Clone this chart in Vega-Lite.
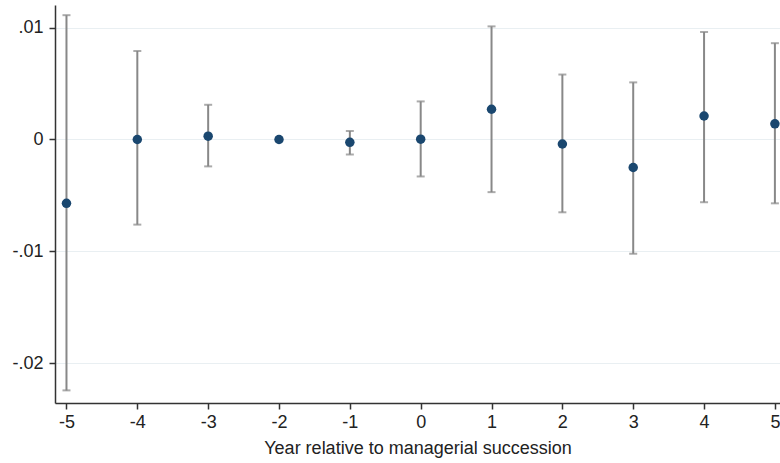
{
  "$schema": "https://vega.github.io/schema/vega-lite/v6.json",
  "autosize": {"type": "none"},
  "padding": {"left": 55, "top": 5, "right": 0, "bottom": 60},
  "width": 725,
  "height": 398,
  "background": "white",
  "config": {
    "view": {"stroke": null},
    "font": "Liberation Sans"
  },
  "data": {
    "values": [
      {"year": -5, "coef": -0.0057, "lo": -0.0224, "hi": 0.0111},
      {"year": -4, "coef": 0.0000, "lo": -0.0076, "hi": 0.0079},
      {"year": -3, "coef": 0.0003, "lo": -0.0024, "hi": 0.0031},
      {"year": -2, "coef": 0.0000, "lo": null, "hi": null},
      {"year": -1, "coef": -0.00025, "lo": -0.00134, "hi": 0.00076},
      {"year": 0, "coef": 0.00003, "lo": -0.0033, "hi": 0.0034},
      {"year": 1, "coef": 0.0027, "lo": -0.0047, "hi": 0.0101},
      {"year": 2, "coef": -0.0004, "lo": -0.0065, "hi": 0.0058},
      {"year": 3, "coef": -0.0025, "lo": -0.0102, "hi": 0.0051},
      {"year": 4, "coef": 0.0021, "lo": -0.0056, "hi": 0.0096},
      {"year": 5, "coef": 0.0014, "lo": -0.0057, "hi": 0.0086}
    ]
  },
  "encoding": {
    "x": {
      "field": "year",
      "type": "quantitative",
      "scale": {"domain": [-5.162, 5.072], "nice": false, "zero": false},
      "axis": {
        "title": "Year relative to managerial succession",
        "values": [-5, -4, -3, -2, -1, 0, 1, 2, 3, 4, 5],
        "labelExpr": "datum.value < 0 ? '-' + abs(datum.value) : '' + datum.value",
        "grid": false,
        "domainColor": "#333333",
        "domainWidth": 1.5,
        "tickColor": "#333333",
        "tickWidth": 1.5,
        "tickSize": 6,
        "labelFontSize": 18,
        "labelColor": "#222222",
        "labelPadding": 4,
        "titleFontSize": 18,
        "titleFontWeight": "normal",
        "titleColor": "#222222",
        "titlePadding": 8
      }
    }
  },
  "layer": [
    {
      "mark": {"type": "rule", "color": "#888888", "strokeWidth": 2},
      "encoding": {
        "y": {
          "field": "lo",
          "type": "quantitative",
          "scale": {"domain": [-0.023527, 0.012009], "nice": false, "zero": false},
          "axis": {
            "title": null,
            "values": [-0.02, -0.01, 0, 0.01],
            "labelExpr": "datum.value == 0 ? '0' : (datum.value < 0 ? '-' : '') + replace(format(abs(datum.value), '.2f'), '0.', '.')",
            "grid": true,
            "gridColor": "#e9eff2",
            "gridWidth": 1,
            "domainColor": "#333333",
            "domainWidth": 1.5,
            "tickColor": "#333333",
            "tickWidth": 1.5,
            "tickSize": 6,
            "labelFontSize": 18,
            "labelColor": "#222222",
            "labelPadding": 6
          }
        },
        "y2": {"field": "hi"}
      }
    },
    {
      "mark": {"type": "tick", "orient": "horizontal", "color": "#888888", "size": 8, "thickness": 2},
      "encoding": {"y": {"field": "lo", "type": "quantitative"}}
    },
    {
      "mark": {"type": "tick", "orient": "horizontal", "color": "#888888", "size": 8, "thickness": 2},
      "encoding": {"y": {"field": "hi", "type": "quantitative"}}
    },
    {
      "mark": {"type": "circle", "color": "#1a476f", "size": 90, "opacity": 1},
      "encoding": {"y": {"field": "coef", "type": "quantitative"}}
    }
  ]
}
